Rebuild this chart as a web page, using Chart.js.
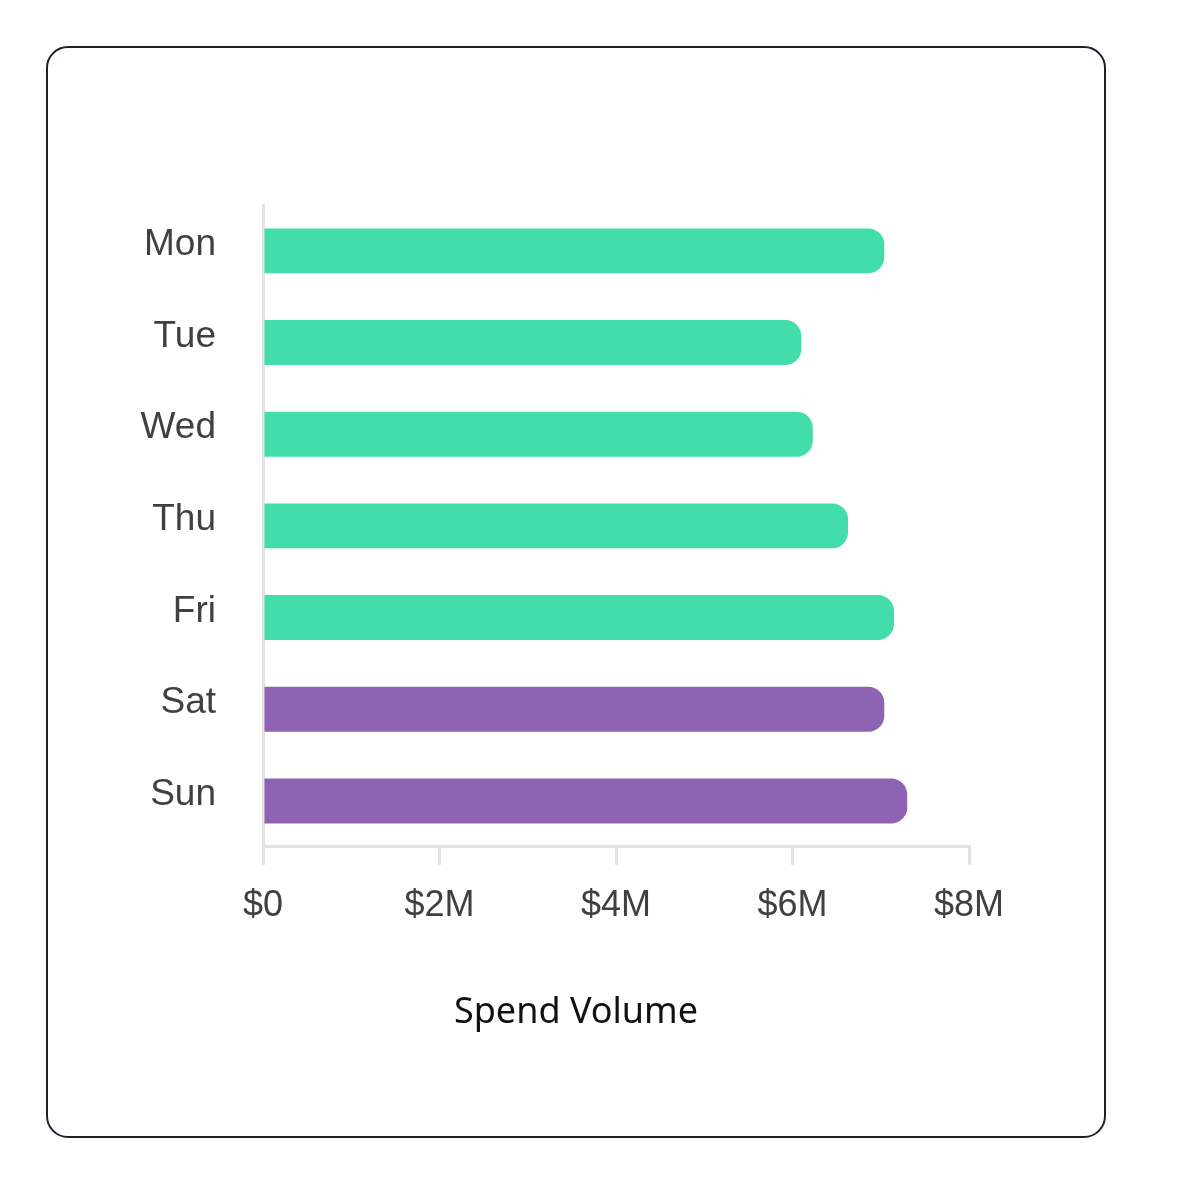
<!DOCTYPE html>
<html>
<head>
<meta charset="utf-8">
<script src="https://cdn.jsdelivr.net/npm/chart.js@4/dist/chart.umd.min.js"></script>
<style>
  html, body { margin: 0; padding: 0; background: #fff; }
  #card {
    position: absolute; left: 46px; top: 46px;
    width: 1056px; height: 1088px;
    border: 2.5px solid #1f1f2b; border-radius: 22px;
  }
  #wrap { position: absolute; left: 0; top: 0; width: 1184px; height: 1200px; }
</style>
</head>
<body>
<div id="card"></div>
<div id="wrap"><canvas id="spendChart"></canvas></div>
<script>
// data
const days = ['Mon', 'Tue', 'Wed', 'Thu', 'Fri', 'Sat', 'Sun'];
const spend = [7.04, 6.10, 6.23, 6.63, 7.15, 7.04, 7.30]; // $M
const barColors = ['#42DDAA', '#42DDAA', '#42DDAA', '#42DDAA', '#42DDAA', '#8E63B3', '#8E63B3'];
const xTicks = [0, 2, 4, 6, 8];

const axisGrey = '#e2e2e2';
const labelFont = { family: "'Liberation Sans', Arial, sans-serif", size: 36 };

// the bottom title is centred on the card, not on the chart area
const centreTitle = {
  id: 'centreTitle',
  afterLayout(chart) {
    const t = chart.titleBlock;
    if (!t) return;
    t.left = 0;
    t.right = 1152;
    t.width = 1152;
  }
};

new Chart(document.getElementById('spendChart'), {
  type: 'bar',
  data: {
    labels: days,
    datasets: [{
      data: spend,
      backgroundColor: barColors,
      borderRadius: 16,
      borderSkipped: 'start',
      categoryPercentage: 1,
      barPercentage: 0.49
    }]
  },
  options: {
    indexAxis: 'y',
    responsive: true,
    maintainAspectRatio: false,
    animation: false,
    layout: { padding: { left: 0, top: 205, right: 215, bottom: 166 } },
    plugins: {
      legend: { display: false },
      tooltip: { enabled: false },
      title: {
        display: true,
        position: 'bottom',
        text: 'Spend Volume',
        color: '#111',
        font: { family: "'Noto Sans', sans-serif", size: 36, weight: 'normal' },
        padding: { top: 66, bottom: 0 }
      }
    },
    scales: {
      x: {
        min: 0, max: 8,
        afterBuildTicks: s => { s.ticks = xTicks.map(v => ({ value: v })); },
        afterFit: s => { s.height = 78; },
        grid: { drawOnChartArea: false, drawTicks: true, tickLength: 18, color: axisGrey, lineWidth: 3 },
        border: { color: axisGrey, width: 3 },
        ticks: {
          padding: 20,
          color: '#404040',
          font: labelFont,
          callback: v => v === 0 ? '$0' : '$' + v + 'M'
        }
      },
      y: {
        afterFit: s => { s.width = 263; },
        grid: { display: false, drawTicks: false },
        border: { color: axisGrey, width: 3 },
        ticks: { padding: 47, labelOffset: -6, color: '#404040', font: { family: labelFont.family, size: 37 } }
      }
    }
  },
  plugins: [centreTitle]
});
</script>
</body>
</html>
